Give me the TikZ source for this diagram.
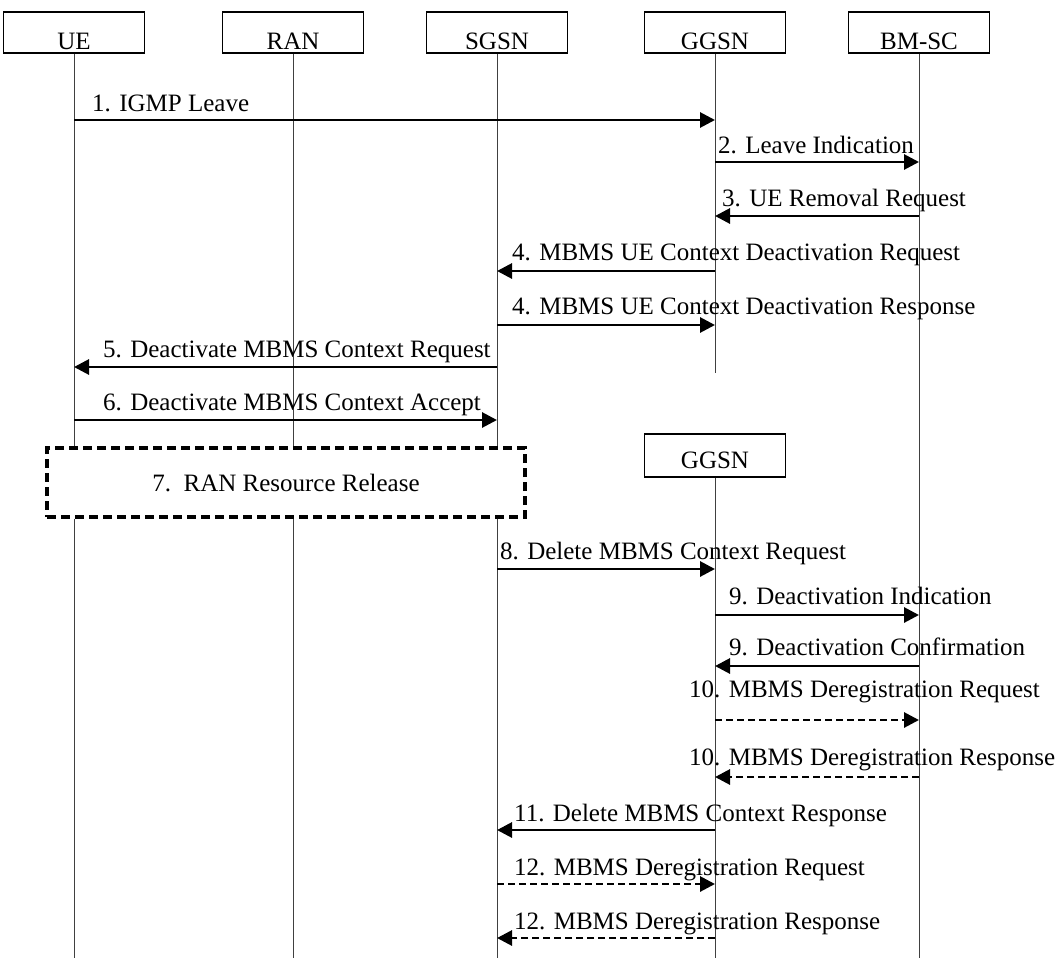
\documentclass[tikz,border=0pt]{standalone}
\usepackage{fontspec}
\setmainfont{Liberation Serif}
\usepackage{tikz}
\usetikzlibrary{arrows.meta}

\begin{document}
\begin{tikzpicture}[x=1pt,y=-1pt,
  ent/.style={draw,line width=1.6pt,minimum width=141pt,minimum height=41pt,inner sep=2pt,
    font=\fontsize{25}{30}\selectfont,text height=35pt,text depth=2pt},
  life/.style={line width=1pt,black!75},
  msg/.style={line width=2.9pt,->},
  dmsg/.style={msg,dash pattern=on 7pt off 4pt},
  lbl/.style={anchor=base west,inner sep=0pt,font=\fontsize{25}{30}\selectfont}]
\begin{scope}[>={Triangle[length=15pt,width=15pt]}]

    \useasboundingbox (0,0) rectangle (1056,958);
    \coordinate (bottom) at (0,958);

    \node[ent] (ue)   at (74,32.5)  {UE};
    \node[ent] (ran)  at (293,32.5) {RAN};
    \node[ent] (sgsn) at (497,32.5) {SGSN};
    \node[ent] (ggsn) at (715,32.5) {GGSN};
    \node[ent] (bmsc) at (919,32.5) {BM-SC};
    \node[ent,minimum height=43pt,text height=32pt,text depth=7pt] (ggsnb) at (715,455.5) {GGSN};

    \node[draw,line width=3.2pt,dash pattern=on 9pt off 5pt,minimum width=478pt,minimum height=69pt,
      font=\fontsize{25}{30}\selectfont] (rrr) at (286,482.5) {7.\ \ RAN Resource Release};

    \draw[life] (ue.south) -- (ue.south |- rrr.north);
    \draw[life] (ue.south |- rrr.south) -- (ue.south |- bottom);
    \draw[life] (ran.south) -- (ran.south |- rrr.north);
    \draw[life] (ran.south |- rrr.south) -- (ran.south |- bottom);
    \draw[life] (sgsn.south) -- (sgsn.south |- rrr.north);
    \draw[life] (sgsn.south |- rrr.south) -- (sgsn.south |- bottom);
    \draw[life] (ggsn.south) -- (ggsn.south |- 0,373);
    \draw[life] (ggsnb.south) -- (ggsnb.south |- bottom);
    \draw[life] (bmsc.south) -- (bmsc.south |- bottom);

    \draw[msg] (ue.south |- 0,120) -- (ggsn.south |- 0,120);
    \node[lbl] (t1) at (92,111) {1. IGMP Leave};
    \draw[msg] (ggsn.south |- 0,162) -- (bmsc.south |- 0,162);
    \node[lbl] (t2) at (718,153) {2. Leave Indication};
    \draw[msg] (bmsc.south |- 0,216) -- (ggsn.south |- 0,216);
    \node[lbl] (t3) at (722,206) {3. UE Removal Request};
    \draw[msg] (ggsn.south |- 0,271) -- (sgsn.south |- 0,271);
    \node[lbl] (t4a) at (512,260) {4. MBMS UE Context Deactivation Request};
    \draw[msg] (sgsn.south |- 0,325) -- (ggsn.south |- 0,325);
    \node[lbl] (t4b) at (512,314) {4. MBMS UE Context Deactivation Response};
    \draw[msg] (sgsn.south |- 0,367) -- (ue.south |- 0,367);
    \node[lbl] (t5) at (103,357) {5. Deactivate MBMS Context Request};
    \draw[msg] (ue.south |- 0,420) -- (sgsn.south |- 0,420);
    \node[lbl] (t6) at (103,410) {6. Deactivate MBMS Context Accept};

    \draw[msg] (sgsn.south |- 0,569) -- (ggsnb.south |- 0,569);
    \node[lbl] (t8) at (500,559) {8. Delete MBMS Context Request};
    \draw[msg] (ggsnb.south |- 0,615) -- (bmsc.south |- 0,615);
    \node[lbl] (t9a) at (729,604) {9. Deactivation Indication};
    \draw[msg] (bmsc.south |- 0,666) -- (ggsnb.south |- 0,666);
    \node[lbl] (t9b) at (729,655) {9. Deactivation Confirmation};
    \draw[dmsg] (ggsnb.south |- 0,720) -- (bmsc.south |- 0,720);
    \node[lbl] (t10a) at (689,697) {10. MBMS Deregistration Request};
    \draw[dmsg] (bmsc.south |- 0,777) -- (ggsnb.south |- 0,777);
    \node[lbl] (t10b) at (689,765) {10. MBMS Deregistration Response};
    \draw[msg] (ggsnb.south |- 0,830) -- (sgsn.south |- 0,830);
    \node[lbl] (t11) at (514,821) {11. Delete MBMS Context Response};
    \draw[dmsg] (sgsn.south |- 0,884) -- (ggsnb.south |- 0,884);
    \node[lbl] (t12a) at (514,875) {12. MBMS Deregistration Request};
    \draw[dmsg] (ggsnb.south |- 0,938) -- (sgsn.south |- 0,938);
    \node[lbl] (t12b) at (514,929) {12. MBMS Deregistration Response};

\end{scope}
\end{tikzpicture}
\end{document}
